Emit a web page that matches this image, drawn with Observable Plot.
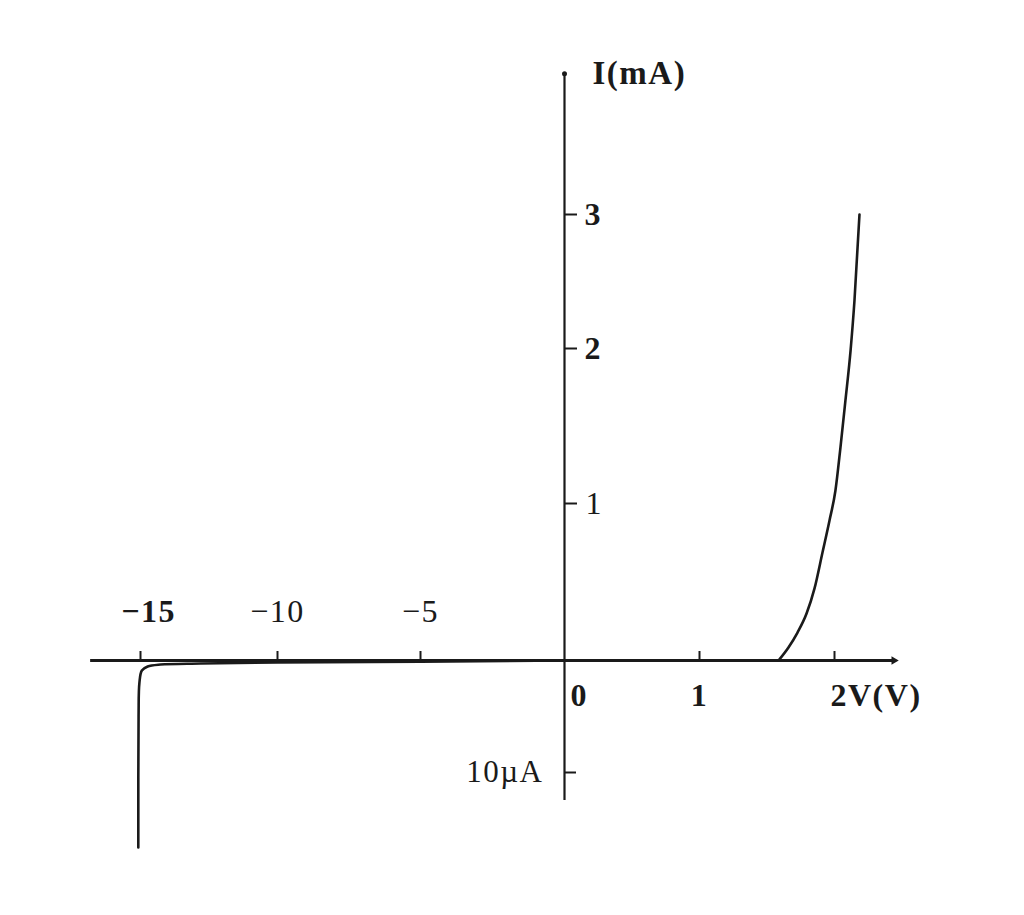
<!DOCTYPE html>
<html><head><meta charset="utf-8">
<script src="https://cdn.jsdelivr.net/npm/d3@7"></script>
<script src="https://cdn.jsdelivr.net/npm/@observablehq/plot@0.6"></script>
<style>body{margin:0;background:#fff} svg{display:block}</style>
</head><body><div id="chart"></div>
<script>
// Forward branch: V (volts) vs I (mA)
const forwardV = [1.585, 1.659, 1.726, 1.793, 1.852, 1.911, 1.963, 2.007, 2.044, 2.081, 2.119, 2.148, 2.185];
const forwardI = [0, 0.083, 0.178, 0.299, 0.459, 0.688, 0.892, 1.084, 1.361, 1.665, 1.987, 2.358, 3.0];
// Reverse branch: V (volts) vs I (µA)
const reverseV = [-15.08, -15.07, -15.04, -14.95, -14.74, -14.27, -12.8, -10, -5, 0];
const reverseI = [-16.7, -5, -2.0, -0.9, -0.54, -0.36, -0.27, -0.18, -0.1, 0];
// Axis ticks
const xNegTickValues = [-15, -10, -5];
const xNegTickLabels = ["−15", "−10", "−5"];
const xPosTickValues = [1, 2];
const xPosTickLabels = ["1", "2V(V)"];
const yTickValues = [1, 2, 3];          // mA
const yTickLabels = ["1", "2", "3"];
const yNegTickUA = [-10];               // µA
const yNegTickLabels = ["10µA"];
const xAxisExtent = [-16.82, 2.44];
const yAxisExtent = [-0.0125, 4.05];    // mA

const forward = forwardV.map((v, i) => ({v, i: forwardI[i]}));
const reverse = reverseV.map((v, i) => ({v, i: reverseI[i] / 1000}));
const xNeg = xNegTickValues.map((v, k) => ({v, label: xNegTickLabels[k]}));
const xPos = xPosTickValues.map((v, k) => ({v, label: xPosTickLabels[k]}));
const xTicks = xNeg.concat(xPos);
const yTicks = yTickValues.map((v, k) => ({v, label: yTickLabels[k]}));
const yNeg = yNegTickUA.map((v, k) => ({v: v / 1000, label: yNegTickLabels[k]}));

const font = "'Liberation Serif', 'DejaVu Serif', serif";
const ink = "#1a1a1a";
const fs = 32;

const chart = Plot.plot({
  width: 1024,
  height: 915,
  margin: 0,
  style: {background: "#fff", fontFamily: font, letterSpacing: "1.5px"},
  x: {type: "linear", domain: [-15, -10, -5, 0, 1, 2], range: [140, 277, 420, 564, 699, 834], axis: null},
  y: {type: "linear", domain: [-0.01, 0, 1, 2, 3], range: [772, 660, 503, 348, 214], axis: null},
  marks: [
    // axes
    Plot.ruleY([0], {x1: xAxisExtent[0], x2: xAxisExtent[1], stroke: ink, strokeWidth: 2.8}),
    Plot.ruleX([0], {y1: yAxisExtent[0], y2: yAxisExtent[1], stroke: ink, strokeWidth: 2.2}),
    Plot.dot([{x: xAxisExtent[1], y: 0}], {x: "x", y: "y", symbol: "triangle2", rotate: 90, r: 4, fill: ink}),
    Plot.dot([{x: 0, y: yAxisExtent[1]}], {x: "x", y: "y", symbol: "circle", r: 2.5, fill: ink}),
    // ticks
    Plot.ruleX(xTicks, {x: "v", y1: 0, y2: 0, insetTop: -9, stroke: ink, strokeWidth: 2}),
    Plot.ruleY(yTicks, {y: "v", x1: 0, x2: 0, insetRight: -13, stroke: ink, strokeWidth: 2}),
    Plot.ruleY(yNeg, {y: "v", x1: 0, x2: 0, insetRight: -12, stroke: ink, strokeWidth: 2}),
    // curves
    Plot.line(reverse, {x: "v", y: "i", stroke: ink, strokeWidth: 2.6, curve: "catmull-rom"}),
    Plot.line(forward, {x: "v", y: "i", stroke: ink, strokeWidth: 2.6, curve: "monotone-x"}),
    // labels
    Plot.text(xNeg.filter(d => d.v === -15), {x: "v", y: 0, text: "label", dy: -49, dx: 8, fontSize: fs, fill: ink, fontWeight: "bold"}),
    Plot.text(xNeg.filter(d => d.v !== -15), {x: "v", y: 0, text: "label", dy: -49, fontSize: fs, fill: ink}),
    Plot.text(xPos.filter(d => d.v === 1), {x: "v", y: 0, text: "label", dy: 35, fontSize: fs, fill: ink, fontWeight: "bold"}),
    Plot.text(xPos.filter(d => d.v === 2), {x: "v", y: 0, text: "label", dy: 35, dx: -4, textAnchor: "start", fontSize: fs, fill: ink, fontWeight: "bold"}),
    Plot.text([{x: 0, y: 0}], {x: "x", y: "y", text: ["0"], dy: 35, dx: 6, textAnchor: "start", fontSize: fs, fill: ink, fontWeight: "bold"}),
    Plot.text(yTicks.filter(d => d.v !== 1), {x: 0, y: "v", text: "label", dx: 20, textAnchor: "start", fontSize: fs, fill: ink, fontWeight: "bold"}),
    Plot.text(yTicks.filter(d => d.v === 1), {x: 0, y: "v", text: "label", dx: 21, textAnchor: "start", fontSize: fs, fill: ink}),
    Plot.text(yNeg, {x: 0, y: "v", text: "label", dx: -21, textAnchor: "end", fontSize: 31, fill: ink}),
    Plot.text([{x: 0, y: yAxisExtent[1]}], {x: "x", y: "y", text: ["I(mA)"], dx: 28, dy: 0, textAnchor: "start", fontSize: 33, fill: ink, fontWeight: "bold"})
  ]
});
document.getElementById("chart").appendChild(chart);
</script>
</body></html>
